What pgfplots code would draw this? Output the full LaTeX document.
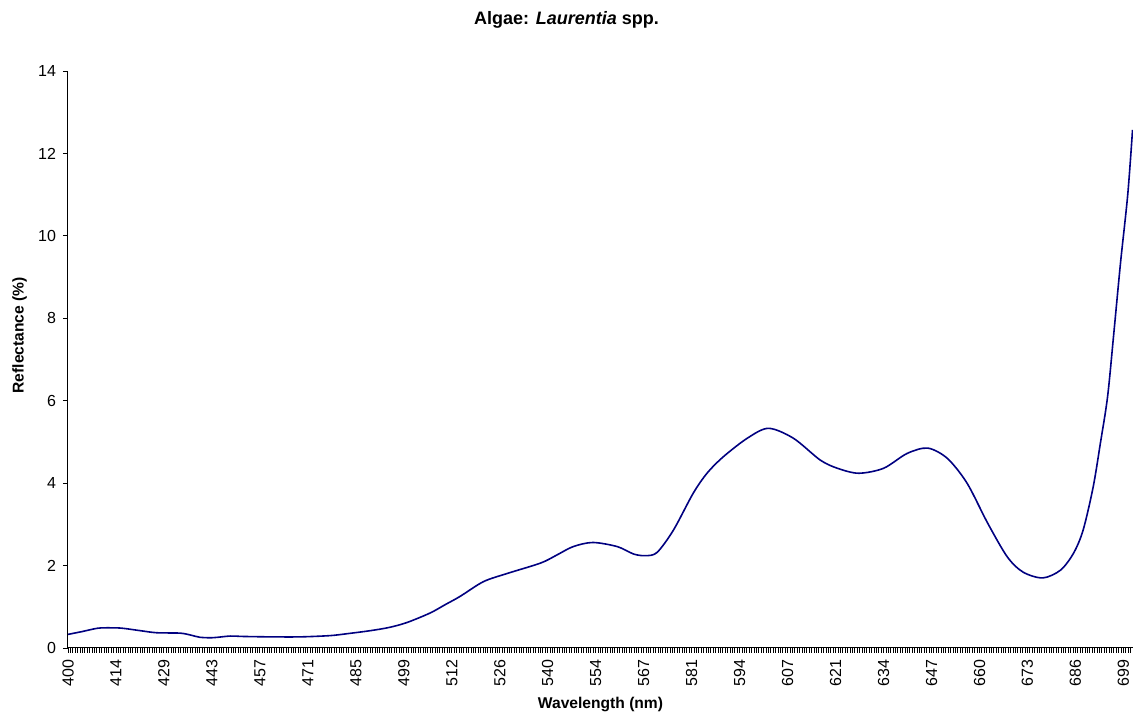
\documentclass[border=0pt]{standalone}
\usepackage{pgfplots}
\pgfplotsset{compat=1.18}
\usepackage{fontspec}
\setmainfont{Liberation Sans}
\usetikzlibrary{calc}
\definecolor{navyline}{RGB}{0,0,128}
\begin{document}
\begin{tikzpicture}
\begin{axis}[
  scale only axis,
  width=532.5pt, height=288.5pt,
  xmin=0, xmax=222, ymin=0, ymax=14,
  axis x line*=bottom, axis y line*=left,
  axis line style={black, line width=0.5pt, -},
  xtick={0,10,...,230},
  xticklabels={400,414,429,443,457,471,485,499,512,526,540,554,567,581,594,607,621,634,647,660,673,686,699},
  minor x tick num=19,
  ytick={0,2,...,14},
  tick align=outside,
  major tick length=2.5pt, minor tick length=2.5pt,
  tick style={black, line width=0.45pt},
  xticklabel style={rotate=90, anchor=east, font=\fontsize{8}{9}\selectfont},
  yticklabel style={font=\fontsize{8}{9}\selectfont},
  /pgf/number format/assume math mode=true,
  xlabel={\textbf{Wavelength (nm)}},
  ylabel={\textbf{Reflectance (\%)}},
  xlabel style={font=\fontsize{7.8}{9}\selectfont, at={(axis description cs:0.5,0)}, anchor=center, yshift=-28.5pt},
  ylabel style={font=\fontsize{7.8}{9}\selectfont, at={(axis description cs:-0.0455,0.542)}, anchor=center},
  title={\textbf{Algae: \textit{Laurentia} spp.}},
  title style={font=\fontsize{9}{10}\selectfont, at={(axis description cs:0.468,1)}, anchor=center, yshift=19.5pt},
  clip=false,
]
\addplot[navyline, line width=0.8pt, smooth, tension=0.5] coordinates {
(0,0.33) (3,0.40) (6.2,0.48) (8.8,0.49) (11.3,0.48) (15.1,0.42) (18.5,0.37) (23.4,0.36)
(25.7,0.31) (27.5,0.26) (30.2,0.25) (33.8,0.29) (36.5,0.28) (42.3,0.27) (48.4,0.27)
(54.6,0.30) (58.4,0.35) (63,0.42) (67,0.50) (70.7,0.62) (75.5,0.85) (78.6,1.05) (81.7,1.25)
(86.6,1.61) (91.6,1.81) (98.5,2.06) (101.8,2.25) (105.3,2.46) (109.4,2.56) (114.5,2.46)
(117.9,2.28) (120.4,2.24) (122.8,2.32) (126.2,2.86) (130.3,3.75) (133.2,4.24) (136.6,4.64)
(141.6,5.09) (146,5.33) (151.2,5.09) (156.8,4.56) (160.4,4.36) (164.8,4.24) (170,4.36)
(174.9,4.72) (179.2,4.85) (183.3,4.60) (187.4,4.0) (191.7,3.03) (195.8,2.21) (199.1,1.84)
(203.2,1.70) (206.9,1.89) (209.6,2.30) (211.6,2.86) (213.7,3.91) (215.2,4.97) (216.7,6.10)
(218,7.64) (219.4,9.35) (220.9,11.0) (221.9,12.57)
};
\end{axis}
\pgfresetboundingbox
\path ($(current axis.south west)+(-34pt,-33.5pt)$) rectangle ($(current axis.north east)+(0pt,35.5pt)$);
\end{tikzpicture}
\end{document}
